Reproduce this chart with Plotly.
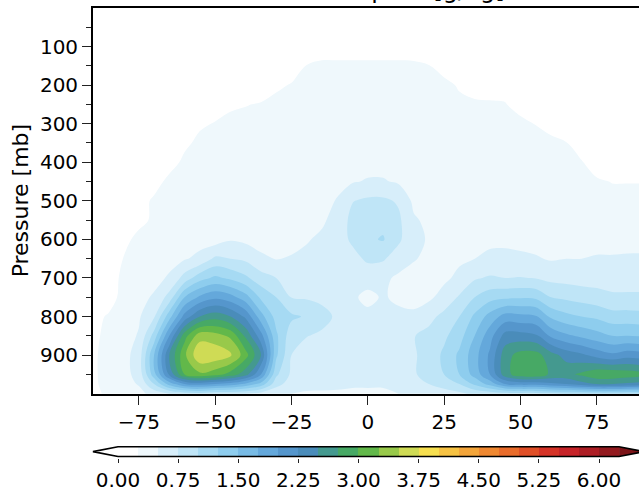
import numpy as np
import plotly.graph_objects as go

# ---------------- data ----------------
lats = [-90, -85, -80, -75, -70, -65, -60, -55, -50, -45, -40, -35, -30, -25, -20, -15, -10, -5,
        0, 5, 10, 15, 20, 25, 30, 35, 40, 45, 50, 55, 60, 65, 70, 75, 80, 85, 90]
pressure = [0, 100, 150, 200, 250, 300, 350, 400, 450, 500, 550, 600, 650, 700, 750, 800,
            850, 900, 950, 975, 1000]

# one vertical profile (values at the pressure levels above) per latitude  [g/kg]
profiles = [
    [0.05,0.05,0.05,0.05,0.05,0.05,0.05,0.05,0.05,0.05,0.05,0.08,0.1,0.12,0.14,0.16,0.18,0.2,0.2,0.2,0.18],
    [0.05,0.05,0.05,0.05,0.05,0.05,0.05,0.05,0.05,0.06,0.07,0.08,0.09,0.1,0.1,0.28,0.33,0.36,0.36,0.34,0.3],
    [0.05,0.05,0.05,0.05,0.05,0.05,0.06,0.07,0.08,0.09,0.1,0.1,0.26,0.32,0.36,0.38,0.4,0.42,0.42,0.4,0.35],
    [0.05,0.05,0.05,0.05,0.05,0.06,0.07,0.08,0.09,0.1,0.1,0.4,0.42,0.44,0.45,0.47,0.52,0.6,0.58,0.52,0.42],
    [0.05,0.05,0.05,0.05,0.05,0.06,0.07,0.08,0.1,0.31,0.34,0.38,0.41,0.45,0.52,0.72,1.1,1.5,1.4,1.0,0.6],
    [0.05,0.05,0.05,0.05,0.06,0.07,0.08,0.1,0.35,0.37,0.39,0.41,0.45,0.52,0.85,1.4,2.0,2.5,2.3,1.6,0.75],
    [0.05,0.05,0.05,0.06,0.07,0.09,0.18,0.33,0.36,0.38,0.4,0.42,0.48,0.85,1.5,2.1,2.9,3.2,3.0,2.0,0.85],
    [0.05,0.05,0.05,0.06,0.08,0.2,0.33,0.35,0.37,0.38,0.4,0.42,0.56,1.15,1.8,2.5,3.4,3.72,3.2,2.1,0.9],
    [0.05,0.05,0.05,0.06,0.1,0.27,0.3,0.32,0.34,0.35,0.36,0.38,0.8,1.3,1.95,2.65,3.35,3.68,3.1,2.0,0.8],
    [0.05,0.05,0.05,0.06,0.2,0.33,0.34,0.35,0.36,0.37,0.38,0.48,0.75,1.2,1.85,2.5,3.2,3.55,2.9,1.9,0.8],
    [0.05,0.05,0.05,0.1,0.24,0.32,0.33,0.34,0.35,0.36,0.38,0.44,0.7,1.05,1.6,2.2,2.7,3.1,2.6,1.7,0.75],
    [0.05,0.05,0.05,0.1,0.27,0.31,0.32,0.33,0.34,0.35,0.37,0.4,0.55,0.85,1.2,1.6,2.1,2.5,2.0,1.4,0.65],
    [0.05,0.05,0.1,0.2,0.33,0.34,0.35,0.36,0.37,0.38,0.39,0.4,0.49,0.75,1.0,1.15,1.3,1.3,1.05,0.85,0.55],
    [0.05,0.05,0.1,0.27,0.33,0.34,0.35,0.36,0.37,0.38,0.4,0.42,0.52,0.62,0.74,1.05,0.85,0.75,0.7,0.62,0.5],
    [0.05,0.1,0.26,0.31,0.33,0.34,0.35,0.36,0.37,0.38,0.42,0.48,0.56,0.62,0.72,0.97,0.76,0.62,0.58,0.55,0.48],
    [0.05,0.1,0.31,0.32,0.33,0.34,0.35,0.36,0.38,0.4,0.46,0.55,0.58,0.6,0.68,0.85,0.7,0.58,0.56,0.54,0.48],
    [0.05,0.1,0.31,0.32,0.33,0.34,0.36,0.38,0.42,0.52,0.6,0.62,0.58,0.56,0.58,0.7,0.6,0.56,0.55,0.53,0.48],
    [0.05,0.1,0.31,0.33,0.34,0.35,0.37,0.4,0.48,0.74,0.82,0.8,0.66,0.56,0.53,0.58,0.56,0.55,0.55,0.52,0.47],
    [0.05,0.1,0.31,0.33,0.34,0.36,0.38,0.42,0.52,0.8,0.92,0.96,0.8,0.58,0.45,0.55,0.56,0.55,0.55,0.52,0.47],
    [0.05,0.1,0.31,0.33,0.34,0.36,0.38,0.42,0.52,0.8,0.93,1.02,0.78,0.55,0.52,0.55,0.56,0.55,0.55,0.52,0.47],
    [0.05,0.1,0.31,0.33,0.34,0.36,0.38,0.4,0.47,0.72,0.8,0.8,0.62,0.46,0.46,0.55,0.58,0.6,0.6,0.56,0.5],
    [0.05,0.1,0.3,0.32,0.33,0.35,0.37,0.39,0.41,0.45,0.53,0.56,0.52,0.4,0.42,0.55,0.74,0.72,0.72,0.66,0.55],
    [0.05,0.1,0.26,0.31,0.32,0.34,0.36,0.38,0.4,0.42,0.45,0.48,0.44,0.38,0.45,0.68,0.82,0.85,0.85,0.75,0.6],
    [0.05,0.1,0.1,0.35,0.36,0.37,0.38,0.39,0.4,0.41,0.42,0.43,0.44,0.45,0.6,0.82,0.95,1.05,1.0,0.85,0.65],
    [0.05,0.1,0.1,0.21,0.33,0.35,0.36,0.38,0.39,0.4,0.42,0.44,0.46,0.56,0.78,1.0,1.15,1.3,1.25,1.0,0.7],
    [0.05,0.05,0.1,0.1,0.31,0.34,0.36,0.38,0.39,0.4,0.42,0.44,0.5,0.72,1.0,1.3,1.5,1.65,1.6,1.3,0.8],
    [0.05,0.05,0.1,0.1,0.29,0.33,0.35,0.37,0.38,0.39,0.41,0.45,0.55,0.78,1.15,1.6,1.9,2.05,2.0,1.6,0.85],
    [0.05,0.05,0.1,0.1,0.27,0.32,0.34,0.36,0.37,0.38,0.4,0.45,0.56,0.75,1.2,1.85,2.35,2.65,2.65,2.0,0.9],
    [0.05,0.05,0.05,0.1,0.1,0.35,0.36,0.37,0.38,0.39,0.4,0.44,0.54,0.76,1.22,1.82,2.35,2.85,2.9,2.1,0.9],
    [0.05,0.05,0.05,0.1,0.15,0.24,0.34,0.36,0.37,0.38,0.4,0.42,0.52,0.74,1.2,1.78,2.3,2.85,2.92,2.1,0.9],
    [0.05,0.05,0.05,0.1,0.1,0.1,0.35,0.36,0.37,0.38,0.39,0.42,0.48,0.68,1.0,1.45,1.95,2.6,2.7,2.2,0.95],
    [0.05,0.05,0.05,0.05,0.1,0.1,0.26,0.34,0.36,0.37,0.38,0.42,0.5,0.66,0.95,1.32,1.8,2.4,2.68,2.25,1.0],
    [0.05,0.05,0.05,0.05,0.05,0.1,0.1,0.27,0.33,0.35,0.37,0.42,0.5,0.64,0.9,1.25,1.7,2.3,2.8,2.4,1.0],
    [0.05,0.05,0.05,0.05,0.05,0.05,0.1,0.1,0.29,0.34,0.36,0.42,0.52,0.64,0.85,1.2,1.6,2.15,2.95,2.5,1.05],
    [0.05,0.05,0.05,0.05,0.05,0.05,0.1,0.15,0.24,0.34,0.36,0.42,0.52,0.62,0.8,1.1,1.5,2.05,2.95,2.5,1.05],
    [0.05,0.05,0.05,0.05,0.05,0.05,0.1,0.15,0.24,0.34,0.36,0.42,0.53,0.62,0.8,1.1,1.5,2.15,2.9,2.45,1.0],
    [0.05,0.05,0.05,0.05,0.05,0.05,0.1,0.15,0.24,0.34,0.36,0.42,0.53,0.62,0.8,1.08,1.48,2.1,2.85,2.4,1.0],
]

levels = [0.0, 0.25, 0.5, 0.75, 1.0, 1.25, 1.5, 1.75, 2.0, 2.25, 2.5, 2.75, 3.0, 3.25,
          3.5, 3.75, 4.0, 4.25, 4.5, 4.75, 5.0, 5.25, 5.5, 5.75, 6.0, 6.25]

# colour below first level, one per band, colour above last level
band_colors = ["#ffffff",
               "#ffffff", "#eff8fc", "#d7eefa", "#bfe5f7", "#a6daf3", "#8ecdee", "#78bbe5",
               "#64a8db", "#5596cc", "#4a8cba", "#44998f", "#47a965", "#62b84a", "#98c94a",
               "#cfdb55", "#f6df4f", "#f6c243", "#f3a53a", "#ef8831", "#e96c2b", "#e04f27",
               "#d53327", "#c62328", "#ad1d24", "#931a1f",
               "#7c1418"]

cbar_ticks = [0.0, 0.75, 1.5, 2.25, 3.0, 3.75, 4.5, 5.25, 6.0]
x_ticks = [-75, -50, -25, 0, 25, 50, 75]
y_ticks = [100, 200, 300, 400, 500, 600, 700, 800, 900]
y_minor = [50, 150, 250, 350, 450, 550, 650, 750, 850, 950]

title_text = "Cloud water path [g/kg]"
ylabel_text = "Pressure [mb]"

# ---------------- figure ----------------
FONT = "DejaVu Sans"
z = np.array(profiles).T
nc = len(levels)
cscale = [[j / nc, band_colors[j]] for j in range(nc + 1)]

fig = go.Figure()
fig.add_trace(go.Contour(
    x=lats, y=pressure, z=z, autocontour=False,
    contours=dict(start=levels[0], end=levels[-1], size=levels[1] - levels[0],
                  coloring="fill", showlines=False),
    colorscale=cscale, showscale=False, line=dict(width=0, smoothing=1),
    hoverinfo="skip", xaxis="x", yaxis="y"))

# colourbar drawn on its own small axes
nb = nc - 1
hm_scale = []
for i, c in enumerate(band_colors[1:nc]):
    hm_scale += [[i / nb, c], [(i + 1) / nb, c]]
fig.add_trace(go.Heatmap(x=levels, y=[0, 1], z=[list(range(nb))], zmin=-0.5, zmax=nb - 0.5,
                         colorscale=hm_scale, showscale=False, hoverinfo="skip",
                         xaxis="x2", yaxis="y2"))
ext = 0.05 * (levels[-1] - levels[0])
lo, hi = levels[0], levels[-1]
fig.add_trace(go.Scatter(x=[lo, lo - ext, lo, lo], y=[0, 0.5, 1, 0], fill="toself",
                         fillcolor=band_colors[0], mode="lines", line=dict(width=0),
                         hoverinfo="skip", showlegend=False, xaxis="x2", yaxis="y2"))
fig.add_trace(go.Scatter(x=[hi, hi + ext, hi, hi], y=[0, 0.5, 1, 0], fill="toself",
                         fillcolor=band_colors[-1], mode="lines", line=dict(width=0),
                         hoverinfo="skip", showlegend=False, xaxis="x2", yaxis="y2"))
fig.add_trace(go.Scatter(x=[lo, hi, hi + ext, hi, lo, lo - ext, lo],
                         y=[0, 0, 0.5, 1, 1, 0.5, 0], mode="lines",
                         line=dict(color="black", width=1.6), hoverinfo="skip",
                         showlegend=False, xaxis="x2", yaxis="y2"))

W, H = 639, 492
ML, MT = 80, 8
pw, ph = W - ML, H - MT
px2x = lambda px: (px - ML) / pw
px2y = lambda py: (H - py) / ph

tickfont = dict(family=FONT, size=20, color="black")
fig.update_layout(
    width=W, height=H, margin=dict(l=ML, r=0, t=MT, b=0),
    paper_bgcolor="white", plot_bgcolor="white", showlegend=False,
    font=dict(family=FONT, color="black"),
    xaxis=dict(domain=[px2x(93), 1], anchor="y", range=[-90, 88.8],
               tickvals=x_ticks, ticktext=[str(v).replace("-", "\u2212") for v in x_ticks],
               ticks="outside", ticklen=9, tickwidth=1.3, tickcolor="#222",
               showline=True, linewidth=1.8, linecolor="black", mirror=True,
               showgrid=False, zeroline=False, tickfont=tickfont),
    yaxis=dict(domain=[px2y(401), 1], anchor="x", range=[1000, 0],
               tickvals=y_ticks, ticks="outside", ticklen=9, tickwidth=1.3, tickcolor="#222",
               minor=dict(tickvals=y_minor, ticks="outside", ticklen=5, tickwidth=1.1,
                          tickcolor="#222"),
               showline=True, linewidth=1.8, linecolor="black", mirror=False,
               showgrid=False, zeroline=False, tickfont=tickfont),
    xaxis2=dict(domain=[0, 1], anchor="y2", range=[(80 - 118) / 80.17, (639 - 118) / 80.17],
                tickvals=cbar_ticks, ticktext=[f"{v:.2f}" for v in cbar_ticks],
                ticks="outside", ticklen=4, tickwidth=1.2, tickcolor="#222",
                showline=False, showgrid=False, zeroline=False, tickfont=tickfont),
    yaxis2=dict(domain=[px2y(466.5), px2y(453.5)], anchor="x2", range=[-0.15, 1.15],
                visible=False),
)

fig.add_annotation(text=ylabel_text, xref="paper", yref="paper", x=px2x(20), y=px2y(204),
                   xanchor="center", yanchor="middle", textangle=-90, showarrow=False,
                   font=dict(family=FONT, size=22, color="black"))
fig.add_annotation(text=title_text, xref="paper", yref="paper", x=px2x(362), y=px2y(6),
                   xanchor="center", yanchor="bottom", showarrow=False,
                   font=dict(family=FONT, size=24, color="black"))

fig.write_html("out.html")
